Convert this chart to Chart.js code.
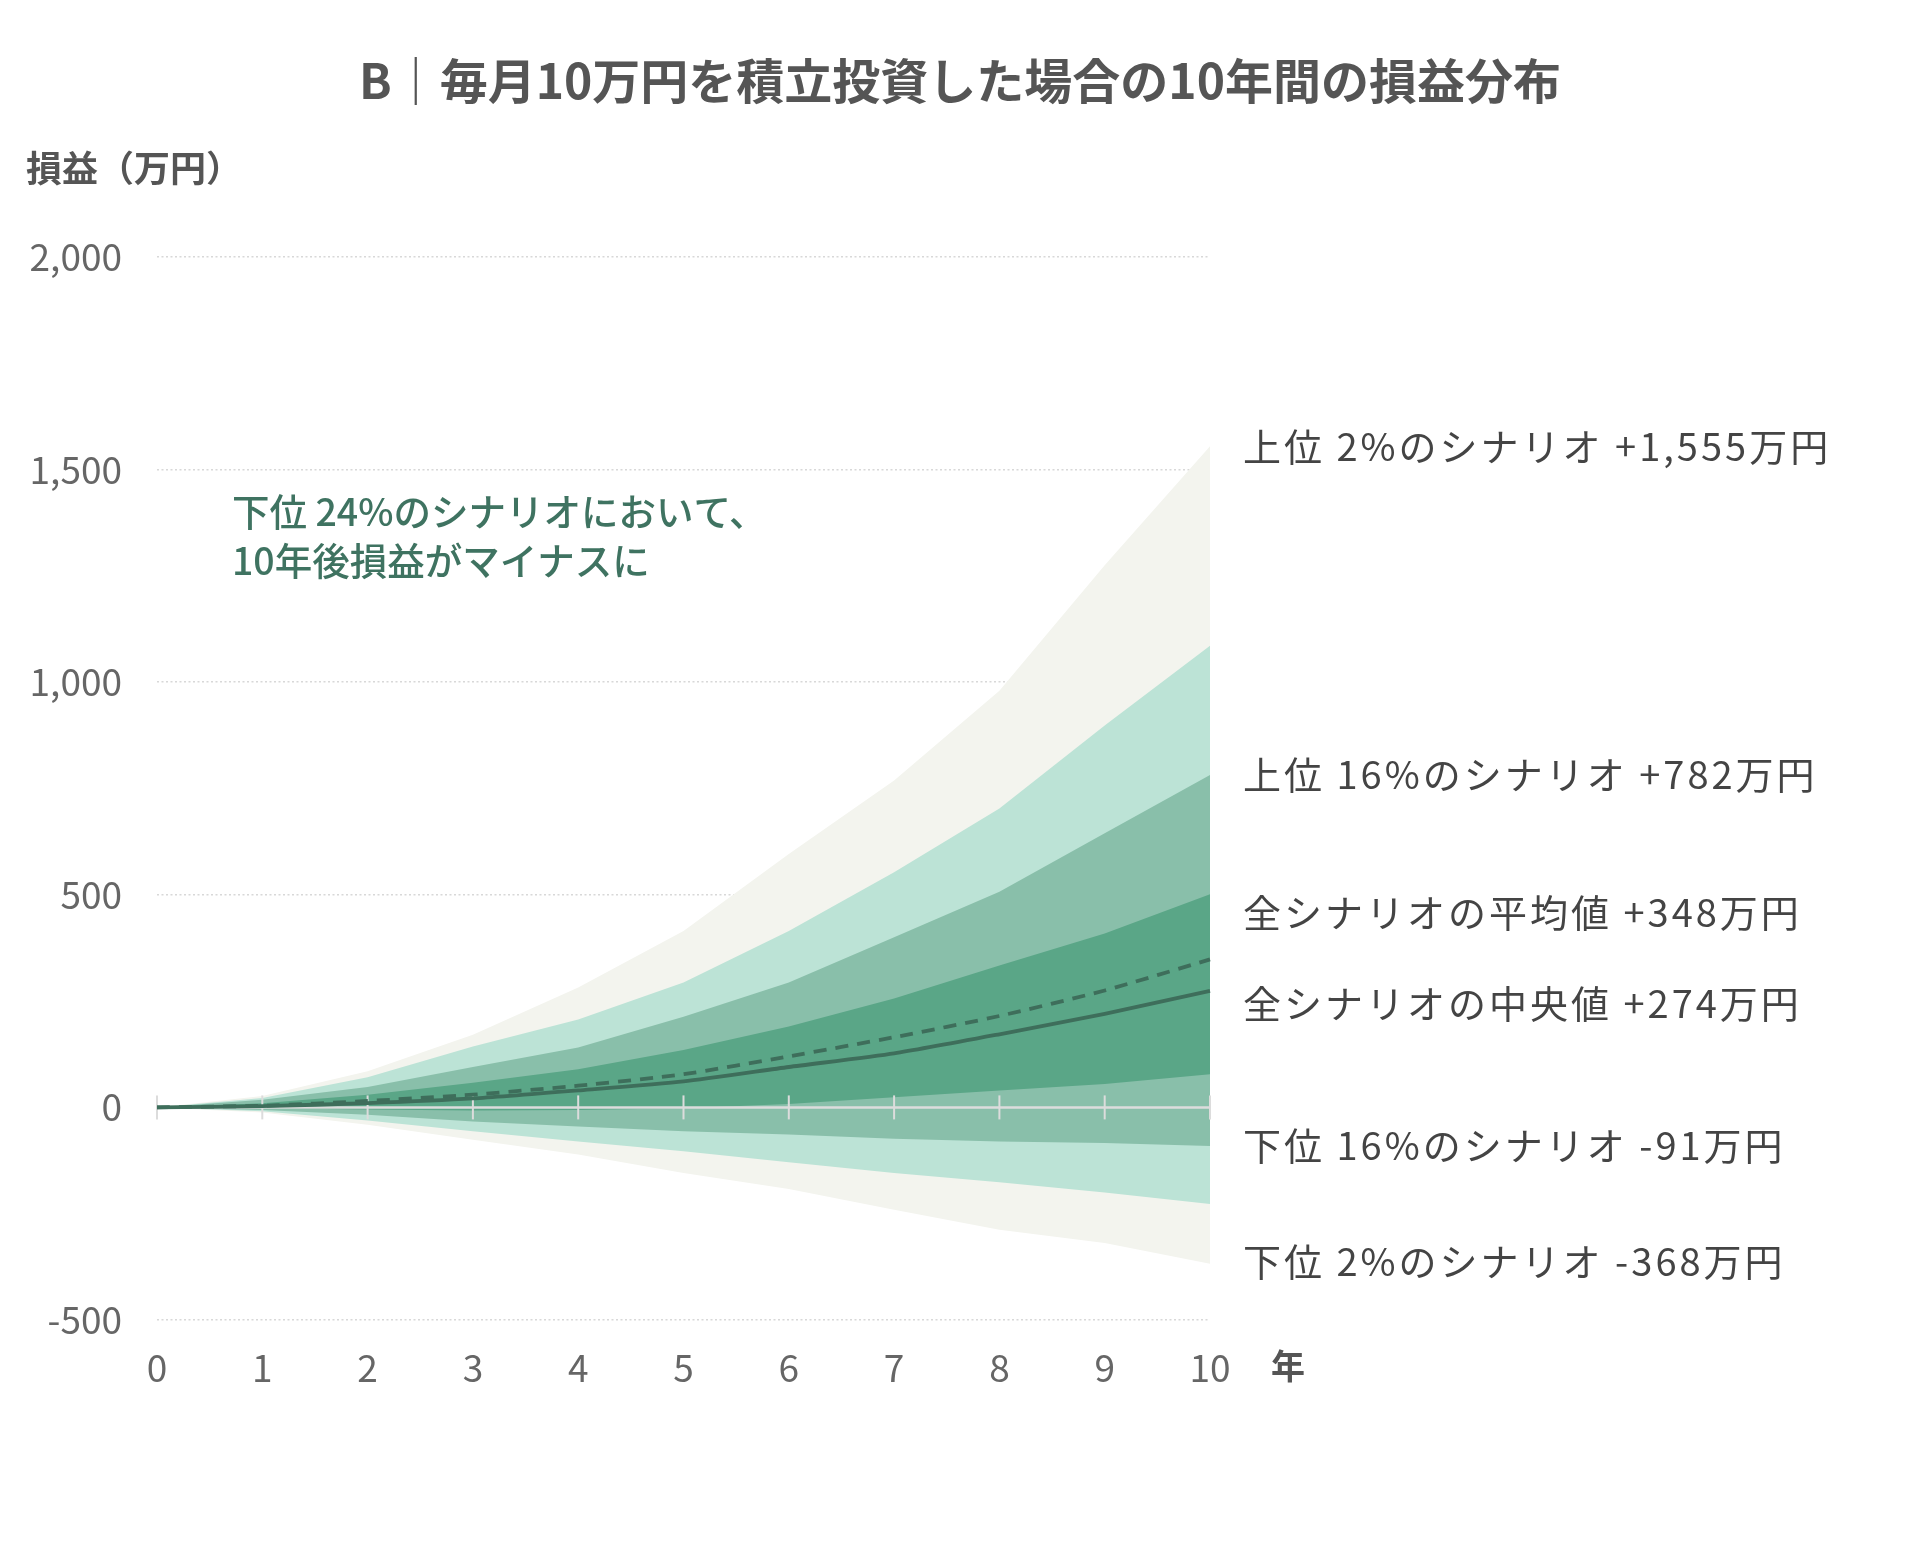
<!DOCTYPE html>
<html lang="ja">
<head>
<meta charset="utf-8">
<title>毎月10万円を積立投資した場合の10年間の損益分布</title>
<script src="https://cdn.jsdelivr.net/npm/chart.js@4.4.1/dist/chart.umd.min.js"></script>
<style>
  html, body { margin: 0; padding: 0; background: #fff; }
  #wrap { width: 1920px; height: 1559px; position: relative; }
</style>
</head>
<body>
<div id="wrap"><canvas id="chart"></canvas></div>
<script>
// 年
const years = [0, 1, 2, 3, 4, 5, 6, 7, 8, 9, 10];

// 損益（万円）
const upper2  = [0, 27, 85, 171, 282, 415, 596, 769, 980, 1275, 1555];
const upper7  = [0, 22, 71, 143, 207, 294, 415, 553, 703, 898, 1086];
const upper16 = [0, 18, 48, 95, 141, 213, 294, 400, 507, 645, 782];
const upper31 = [0, 10, 30, 58, 90, 135, 190, 256, 334, 409, 501];
const meanLine   = [0, 4, 15, 30, 51, 78, 120, 165, 215, 275, 348];
const medianLine = [0, 3, 10, 21, 40, 61, 95, 127, 172, 220, 274];
const lower31 = [0, -2, -5, -7, -6, -2, 8, 24, 40, 55, 78];
const lower16 = [0, -6, -17, -33, -45, -56, -64, -74, -80, -84, -91];
const lower7  = [0, -9, -31, -56, -80, -103, -129, -154, -176, -200, -227];
const lower2  = [0, -12, -41, -76, -111, -154, -192, -241, -288, -319, -368];

const yTicks = [-500, 0, 500, 1000, 1500, 2000];

const titleText = 'B｜毎月10万円を積立投資した場合の10年間の損益分布';
const yTitle = '損益（万円）';
const xUnit = '年';
const noteLines = ['下位 24%のシナリオにおいて、', '10年後損益がマイナスに'];
const endLabels = [
  '上位 2%のシナリオ +1,555万円',
  '上位 16%のシナリオ +782万円',
  '全シナリオの平均値 +348万円',
  '全シナリオの中央値 +274万円',
  '下位 16%のシナリオ -91万円',
  '下位 2%のシナリオ -368万円'
];

const FONT = '"Noto Sans CJK JP", "Noto Sans", sans-serif';
const LINE = '#3e6e5b';

function band(data, color) {
  return { data, fill: '+1', backgroundColor: color, borderWidth: 0, pointRadius: 0, tension: 0 };
}
function edge(data) {
  return { data, fill: false, borderWidth: 0, pointRadius: 0, tension: 0 };
}

const overlay = {
  id: 'overlay',
  beforeDatasetDraw(chart, args) {
    // zero axis with year ticks, above the bands but under the lines
    if (args.index !== 1) return;
    const ctx = chart.ctx;
    const x = chart.scales.x, y = chart.scales.y;
    const y0 = y.getPixelForValue(0);
    ctx.save();
    ctx.strokeStyle = '#dcdcdc';
    ctx.lineWidth = 2.5;
    ctx.beginPath();
    ctx.moveTo(x.getPixelForValue(0), y0);
    ctx.lineTo(x.getPixelForValue(years.length - 1), y0);
    ctx.stroke();
    ctx.lineWidth = 2;
    years.forEach((yr, i) => {
      const px = x.getPixelForValue(i);
      ctx.beginPath();
      ctx.moveTo(px, y0 - 12);
      ctx.lineTo(px, y0 + 12);
      ctx.stroke();
    });
    ctx.restore();
  },
  afterDraw(chart) {
    const ctx = chart.ctx;
    ctx.save();
    ctx.textBaseline = 'middle';

    ctx.fillStyle = '#555';
    ctx.textAlign = 'center';
    ctx.font = 'bold 48px ' + FONT;
    ctx.fillText(titleText, 960, 81);

    ctx.textAlign = 'left';
    ctx.font = 'bold 36px ' + FONT;
    ctx.fillText(yTitle, 26, 168);

    ctx.font = 'bold 34px ' + FONT;
    ctx.fillText(xUnit, 1271, 1366);

    ctx.fillStyle = '#3f7361';
    ctx.font = '500 37.5px ' + FONT;
    ctx.fillText(noteLines[0], 232, 512);
    ctx.fillText(noteLines[1], 232, 561);

    ctx.fillStyle = '#444';
    ctx.font = '38px ' + FONT;
    if ('letterSpacing' in ctx) ctx.letterSpacing = '3px';
    const ys = [447, 775, 913, 1004, 1146, 1262];
    endLabels.forEach((t, i) => ctx.fillText(t, 1243, ys[i]));
    ctx.restore();
  }
};

new Chart(document.getElementById('chart'), {
  type: 'line',
  data: {
    labels: years,
    datasets: [
      { data: medianLine, borderColor: LINE, borderWidth: 3.8, pointRadius: 0, fill: false, tension: 0.2 },
      { data: meanLine, borderColor: LINE, borderWidth: 3.8, borderDash: [13, 9], pointRadius: 0, fill: false, tension: 0.2 },
      band(upper31, '#5aa687'), edge(lower31),
      band(upper16, '#89bfaa'), edge(lower16),
      band(upper7, '#bce3d6'), edge(lower7),
      band(upper2, '#f3f4ee'), edge(lower2)
    ]
  },
  options: {
    responsive: true,
    maintainAspectRatio: false,
    animation: false,
    events: [],
    layout: { padding: { top: 257, right: 710, bottom: 0, left: 0 } },
    plugins: { legend: { display: false }, tooltip: { enabled: false }, title: { display: false } },
    scales: {
      x: {
        type: 'category',
        offset: false,
        grid: { display: false, drawTicks: false },
        border: { display: false },
        ticks: { color: '#666', padding: 26, font: { family: FONT, size: 37 } },
        afterFit(s) { s.height = 239; }
      },
      y: {
        min: -500,
        max: 2000,
        afterBuildTicks(s) { s.ticks = yTicks.map(v => ({ value: v })); },
        grid: {
          drawTicks: false,
          lineWidth: 1.5,
          color: ctx => (ctx.tick && ctx.tick.value === 0 ? 'rgba(0,0,0,0)' : '#d8d8d8')
        },
        border: { display: false, dash: [2, 2.5] },
        ticks: {
          color: '#666',
          padding: 35,
          font: { family: FONT, size: 37 },
          callback: v => v.toLocaleString('en-US')
        },
        afterFit(s) { s.width = 157; }
      }
    }
  },
  plugins: [overlay]
});
</script>
</body>
</html>
